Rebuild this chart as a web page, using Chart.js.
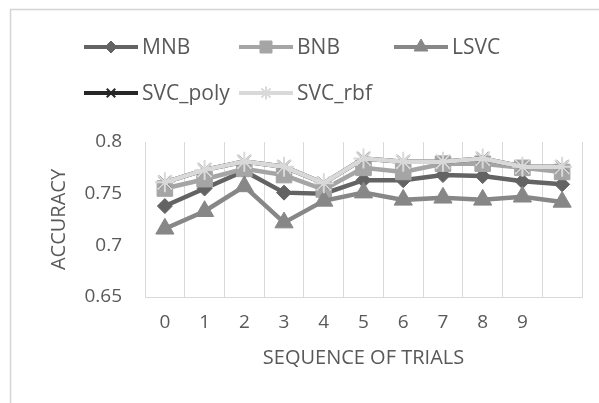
<!DOCTYPE html>
<html>
<head>
<meta charset="utf-8">
<script src="https://cdn.jsdelivr.net/npm/chart.js@4/dist/chart.umd.min.js"></script>
<style>
html,body{margin:0;padding:0;background:#fff;}
#wrap{width:599px;height:403px;}
</style>
</head>
<body>
<div id="wrap"><canvas id="accChart" width="599" height="403"></canvas></div>
<script>
// 试验序号 (最后一格不标号)
var trials = ['0', '1', '2', '3', '4', '5', '6', '7', '8', '9', ''];

// 各分类器准确率
var mnb     = [0.738, 0.755, 0.772, 0.751, 0.750, 0.763, 0.763, 0.768, 0.767, 0.762, 0.759];
var bnb     = [0.755, 0.764, 0.774, 0.768, 0.754, 0.775, 0.771, 0.779, 0.779, 0.775, 0.771];
var lsvc    = [0.716, 0.733, 0.757, 0.722, 0.743, 0.751, 0.744, 0.746, 0.744, 0.747, 0.742];
var svcPoly = [0.761, 0.773, 0.781, 0.776, 0.760, 0.784, 0.781, 0.781, 0.784, 0.776, 0.776];
var svcRbf  = [0.761, 0.773, 0.781, 0.776, 0.760, 0.784, 0.781, 0.781, 0.784, 0.776, 0.776];

var yTicks = [0.65, 0.7, 0.75, 0.8];

var textColor = '#595959';
var gridColor = '#d9d9d9';
Chart.defaults.font.family = '"Open Sans", "Noto Sans", sans-serif';

function series(label, data, color, style, radius, keyRadius, order) {
    return {
        label: label,
        data: data,
        borderColor: color,
        backgroundColor: color,
        borderWidth: 4.5,
        pointStyle: style,
        pointRadius: radius,
        pointBackgroundColor: color,
        pointBorderColor: color,
        pointBorderWidth: (style == 'star' || style == 'crossRot') ? 2 : 1,
        keyRadius: keyRadius,
        order: order,   // 后面的系列画在上层
        tension: 0
    };
}

// 外框
var framePlugin = {
    id: 'frame',
    beforeDraw: function (chart) {
        var ctx = chart.ctx;
        ctx.save();
        ctx.strokeStyle = '#d4d4d4';
        ctx.lineWidth = 1.5;
        ctx.strokeRect(10.5, 9.5, 800, 600);
        ctx.restore();
    }
};

// 图例: 线+标记, 三列排列
var keyPlugin = {
    id: 'seriesKey',
    afterDraw: function (chart) {
        var ctx = chart.ctx;
        chart.data.datasets.forEach(function (ds, i) {
            var x0 = 84 + (i % 3) * 155;
            var y0 = 47 + Math.floor(i / 3) * 46;
            ctx.save();
            ctx.strokeStyle = ds.borderColor;
            ctx.lineWidth = 4;
            ctx.beginPath();
            ctx.moveTo(x0, y0);
            ctx.lineTo(x0 + 54, y0);
            ctx.stroke();
            ctx.fillStyle = ds.pointBackgroundColor;
            ctx.strokeStyle = ds.pointBorderColor;
            ctx.lineWidth = ds.pointBorderWidth;
            Chart.helpers.drawPoint(ctx, {
                pointStyle: ds.pointStyle,
                radius: ds.keyRadius,
                rotation: 0,
                borderWidth: ds.pointBorderWidth
            }, x0 + 27, y0);
            ctx.fillStyle = textColor;
            ctx.font = '21px "Open Sans", "Noto Sans", sans-serif';
            ctx.textBaseline = 'middle';
            ctx.textAlign = 'left';
            ctx.fillText(ds.label, x0 + 58, y0 + 1);
            ctx.restore();
        });
    }
};

var chart = new Chart(document.getElementById('accChart'), {
    type: 'line',
    data: {
        labels: trials,
        datasets: [
            series('MNB', mnb, '#636363', 'rectRot', 7.5, 6, 5),
            series('BNB', bnb, '#a5a5a5', 'rect', 11, 8.5, 4),
            series('LSVC', lsvc, '#878787', 'triangle', 10.5, 8, 3),
            series('SVC_poly', svcPoly, '#262626', 'crossRot', 8.5, 6, 2),
            series('SVC_rbf', svcRbf, '#d9d9d9', 'star', 10, 6.5, 1)
        ]
    },
    options: {
        responsive: false,
        devicePixelRatio: 1,
        animation: false,
        layout: { padding: { left: 47, top: 142, right: 17, bottom: 33 } },
        plugins: {
            legend: { display: false },
            tooltip: { enabled: false }
        },
        scales: {
            x: {
                offset: true,
                grid: { color: gridColor, lineWidth: 1, drawTicks: false, offset: true },
                border: { color: gridColor, width: 1 },
                ticks: { color: textColor, font: { size: 19 }, padding: 14, maxRotation: 0, autoSkip: false },
                title: { display: true, text: 'SEQUENCE OF TRIALS', color: textColor, font: { size: 20 }, padding: 0 },
                afterFit: function (s) { s.height = 73; }
            },
            y: {
                min: yTicks[0],
                max: yTicks[yTicks.length - 1],
                afterBuildTicks: function (s) {
                    s.ticks = yTicks.map(function (v) { return { value: v }; });
                },
                grid: { display: false, drawTicks: false },
                border: { display: false },
                ticks: {
                    color: textColor,
                    font: { size: 19 },
                    padding: 23,
                    callback: function (v) { return String(Math.round(v * 100) / 100); }
                },
                title: { display: true, text: 'ACCURACY', color: textColor, font: { size: 20 }, padding: 0 },
                afterFit: function (s) { s.width = 98; }
            }
        }
    },
    plugins: [framePlugin, keyPlugin]
});
</script>
</body>
</html>
